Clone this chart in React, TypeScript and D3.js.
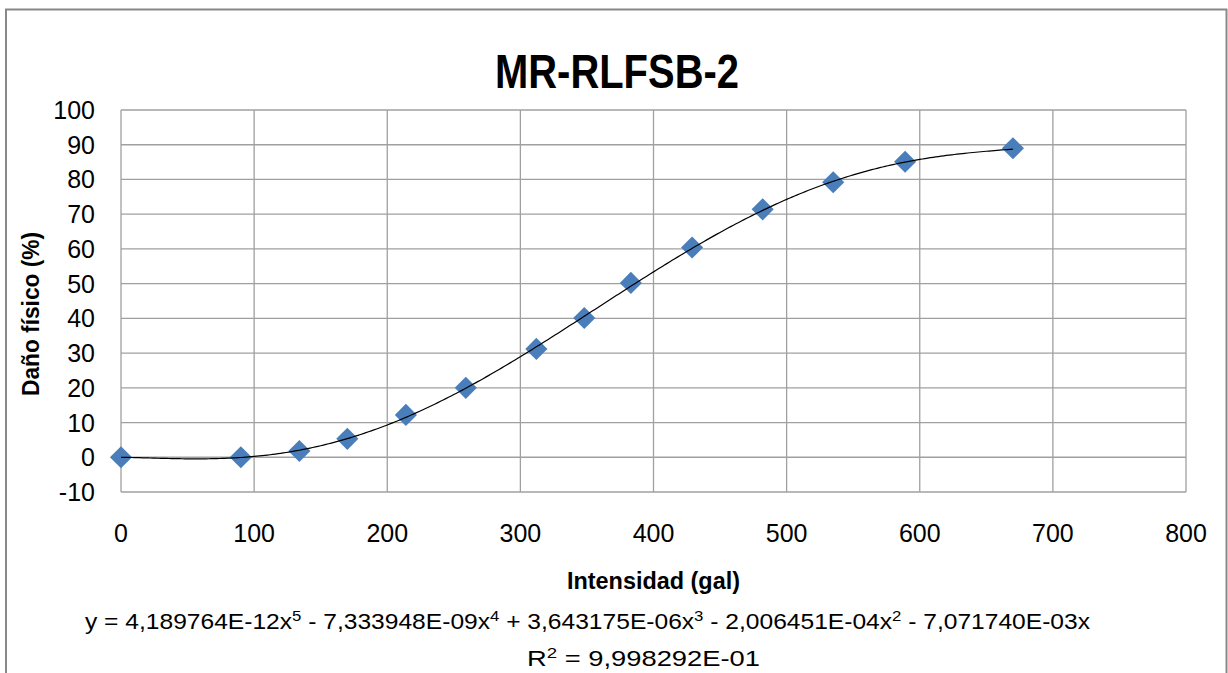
import React from "react";
import * as d3 from "d3";

const intensity = [0, 90, 134, 170, 214, 259, 312, 348, 383, 429, 482, 535, 589, 670];
const damage = [0, 0, 1.8, 5.3, 12.2, 20, 31.2, 40.1, 50.2, 60.4, 71.4, 79.2, 85.1, 89];
// polynomial trendline coefficients (x^1..x^5), from the chart's equation
const trendCoefs = [-7.07174e-3, -2.006451e-4, 3.643175e-6, -7.333948e-9, 4.189764e-12];
const xTicks = [0, 100, 200, 300, 400, 500, 600, 700, 800];
const yTicks = [-10, 0, 10, 20, 30, 40, 50, 60, 70, 80, 90, 100];
const title = "MR-RLFSB-2";
const xLabel = "Intensidad (gal)";
const yLabel = "Daño físico (%)";

const W = 1228;
const H = 673;
const plot = { left: 121, right: 1186, top: 110, bottom: 492 };
const FONT = "'Liberation Sans', Arial, sans-serif";
const GRID = "#a0a0a0";

export default function App() {
  const x = d3.scaleLinear().domain([0, 800]).range([plot.left, plot.right]);
  const y = d3.scaleLinear().domain([-10, 100]).range([plot.bottom, plot.top]);

  const poly = (v: number) => trendCoefs.reduce((s, c, i) => s + c * Math.pow(v, i + 1), 0);
  const xmax = intensity[intensity.length - 1];
  const trendPts: [number, number][] = d3.range(0, xmax + 0.001, 2).map((v) => [v, poly(v)]);
  const line = d3.line<[number, number]>().x((d) => x(d[0])).y((d) => y(d[1])).curve(d3.curveLinear);
  const marker = d3.symbol().type(d3.symbolSquare).size(245)() as string;

  return (
    <div style={{ position: "fixed", left: 0, top: 0 }}>
      <svg width={W} height={H} style={{ display: "block", background: "#fff" }}>
        <rect x={6} y={9.5} width={1220.5} height={700} fill="#fff" stroke="#888" strokeWidth={2} />
        {/* grid */}
        {xTicks.map((t) => (
          <line key={"gx" + t} x1={x(t)} x2={x(t)} y1={plot.top} y2={plot.bottom} stroke={GRID} strokeWidth={1.3} />
        ))}
        {yTicks.map((t) => (
          <line key={"gy" + t} x1={plot.left} x2={plot.right} y1={y(t)} y2={y(t)} stroke={GRID} strokeWidth={1.3} />
        ))}
        {/* tick labels */}
        {yTicks.map((t) => (
          <text key={"ty" + t} x={95} y={y(t) + 9} textAnchor="end" fontFamily={FONT} fontSize={25} fill="#000">
            {t}
          </text>
        ))}
        {xTicks.map((t) => (
          <text key={"tx" + t} x={x(t)} y={541.5} textAnchor="middle" fontFamily={FONT} fontSize={25} fill="#000">
            {t}
          </text>
        ))}
        {/* markers */}
        {intensity.map((v, i) => (
          <path key={"m" + i} d={marker} transform={`translate(${x(v)},${y(damage[i])}) rotate(45)`} fill="#4a7ebb" />
        ))}
        {/* trendline */}
        <path d={line(trendPts) as string} fill="none" stroke="#000" strokeWidth={1.2} />
        {/* title */}
        <text x={617} y={87.5} textAnchor="middle" fontFamily={FONT} fontWeight="bold" fontSize={49} textLength={244} lengthAdjust="spacingAndGlyphs">
          {title}
        </text>
        {/* axis titles */}
        <text x={653.5} y={589} textAnchor="middle" fontFamily={FONT} fontWeight="bold" fontSize={23} textLength={173} lengthAdjust="spacingAndGlyphs">
          {xLabel}
        </text>
        <text transform={`translate(39,314) rotate(-90)`} textAnchor="middle" fontFamily={FONT} fontWeight="bold" fontSize={23} textLength={164} lengthAdjust="spacingAndGlyphs">
          {yLabel}
        </text>
        {/* equation */}
        <text x={587.5} y={628.5} textAnchor="middle" fontFamily={FONT} fontSize={22} textLength={1005} lengthAdjust="spacingAndGlyphs">
          y = 4,189764E-12x<tspan fontSize={15} dy={-8}>5</tspan><tspan dy={8}> - 7,333948E-09x</tspan>
          <tspan fontSize={15} dy={-8}>4</tspan><tspan dy={8}> + 3,643175E-06x</tspan>
          <tspan fontSize={15} dy={-8}>3</tspan><tspan dy={8}> - 2,006451E-04x</tspan>
          <tspan fontSize={15} dy={-8}>2</tspan><tspan dy={8}> - 7,071740E-03x</tspan>
        </text>
        <text x={643.5} y={665.5} textAnchor="middle" fontFamily={FONT} fontSize={22} textLength={233} lengthAdjust="spacingAndGlyphs">
          R<tspan fontSize={15} dy={-8}>2</tspan><tspan dy={8}> = 9,998292E-01</tspan>
        </text>
      </svg>
    </div>
  );
}
